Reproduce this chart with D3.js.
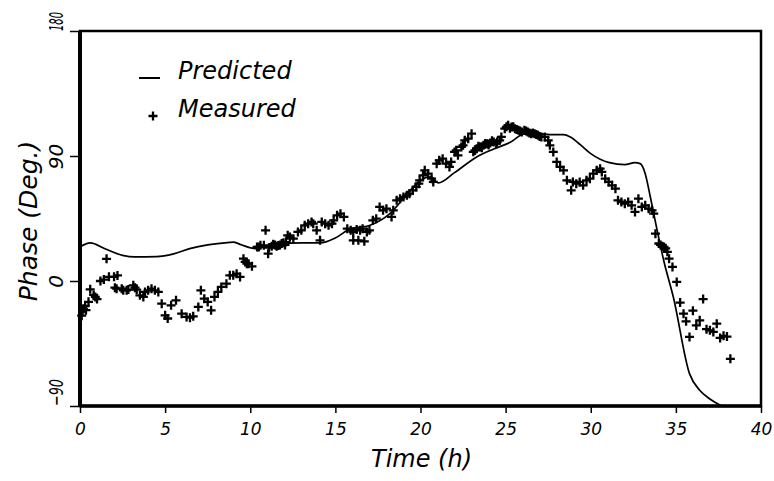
<!DOCTYPE html>
<html>
<head>
<meta charset="utf-8">
<script src="https://cdn.jsdelivr.net/npm/d3@7"></script>
<style>
  body { margin: 0; background: #fff; }
  text { font-family: "DejaVu Sans", sans-serif; font-style: italic; fill: #000; }
</style>
</head>
<body>
<div id="chart"></div>
<script>
// Datos
const predTime  = [0, 0.6, 1.5, 2.5, 3.2, 4.5, 5.5, 6.5, 7.5, 8.5, 9.0, 9.4, 10.3, 11, 11.75, 13, 14.1, 15, 15.9, 17.0, 18.2, 19.4, 20.0, 20.6, 21.05, 22, 23.3, 24.3, 25.3, 26.1, 27.0, 27.6, 28.4, 28.8, 29.4, 30.0, 31.1, 32.0, 32.6, 32.9, 33.2, 33.5, 33.9, 34.3, 34.85, 35.8, 36.4, 37.0, 37.7];
const predPhase = [24.5, 27.4, 23, 18.5, 17.3, 17.5, 19.5, 23.5, 26, 27.5, 28, 26.4, 23.3, 25, 27, 27.5, 27.4, 31, 37.7, 40, 48.5, 65.3, 72.5, 74.9, 70.6, 78, 89.3, 95, 100, 106, 106, 105.4, 105.4, 103.7, 98, 91.7, 85.2, 83.8, 85.2, 84.5, 77.3, 60.5, 36.5, 14, -11.5, -66.7, -78.7, -85, -90];

const measTime = [0.1, 0.15, 0.2, 0.3, 0.35, 0.5, 0.6, 0.8, 0.9, 1.0, 1.2, 1.4, 1.56, 1.7, 2.0, 2.2, 2.05, 2.15, 2.45, 2.54, 2.74, 2.84, 3.13, 3.23, 3.33, 3.52, 3.72, 3.82, 4.0, 4.2, 4.4, 4.6, 4.8, 5.0, 5.15, 5.35, 5.64, 5.97, 6.26, 6.46, 6.65, 6.95, 7.1, 7.3, 7.5, 7.7, 7.9, 8.1, 8.3, 8.6, 8.8, 9.0, 9.2, 9.4, 9.6, 9.7, 9.8, 9.9, 10.1, 10.4, 10.5, 10.6, 10.8, 10.9, 11.05, 11.1, 11.26, 11.35, 11.45, 11.55, 11.65, 11.75, 11.85, 11.95, 12.04, 12.1, 12.2, 12.33, 12.53, 12.8, 13.0, 13.2, 13.4, 13.6, 13.7, 13.9, 14.1, 14.2, 14.4, 14.6, 14.8, 14.9, 15.1, 15.3, 15.5, 15.7, 15.9, 16.05, 16.05, 16.25, 16.35, 16.45, 16.6, 16.7, 16.85, 17.0, 17.2, 17.4, 17.6, 17.8, 18.0, 18.3, 18.4, 18.6, 18.8, 19.0, 19.2, 19.35, 19.55, 19.75, 19.9, 19.95, 20.15, 20.25, 20.45, 20.65, 20.75, 20.95, 21.1, 21.3, 21.5, 21.7, 21.8, 22.0, 22.1, 22.2, 22.4, 22.5, 22.6, 22.8, 23.0, 23.1, 23.2, 23.3, 23.4, 23.5, 23.6, 23.7, 23.8, 23.9, 24.0, 24.1, 24.2, 24.3, 24.45, 24.5, 24.65, 24.75, 24.95, 25.05, 25.15, 25.25, 25.35, 25.45, 25.55, 25.65, 25.75, 25.85, 25.95, 26.1, 26.2, 26.3, 26.4, 26.5, 26.6, 26.7, 26.8, 26.9, 27.0, 27.1, 27.3, 27.5, 27.6, 27.8, 28.0, 28.2, 28.4, 28.6, 28.85, 28.95, 29.15, 29.35, 29.55, 29.75, 29.95, 30.15, 30.35, 30.55, 30.65, 30.85, 31.05, 31.25, 31.45, 31.6, 31.8, 32.0, 32.2, 32.4, 32.6, 32.8, 33.0, 33.2, 33.4, 33.6, 33.7, 33.8, 34.0, 34.1, 34.2, 34.3, 34.4, 34.5, 34.6, 34.8, 35.05, 35.25, 35.45, 35.6, 35.8, 36.0, 36.2, 36.4, 36.6, 36.8, 37.0, 37.2, 37.4, 37.6, 37.8, 38.0, 38.2];
const measPhase = [-25, -22, -20, -18, -21, -15, -6, -10, -11.5, -13, 0, 1, 16, 3, 3, 4, -4.8, -5.5, -5.5, -6.7, -6.7, -6.2, -3.1, -4.8, -6.2, -10.3, -11.5, -7.9, -6.7, -5.5, -6.7, -7.9, -16.3, -24.7, -27, -17.5, -13.9, -23.5, -25.9, -26.4, -25.4, -18.7, -6.7, -12.7, -15.1, -21.1, -11.5, -7.9, -4.3, -1.9, 4.1, 4.1, 5.3, 2.9, 16.1, 13.7, 12.5, 12.5, 10.6, 24.5, 24.5, 25.7, 25.7, 36.5, 19.7, 24, 25, 26.5, 26, 25, 25.5, 26, 27, 27.5, 26, 28, 32.9, 31.7, 30.5, 35.3, 36.5, 40.1, 41.3, 42.5, 41.3, 36.5, 29.3, 42.5, 41.3, 40.1, 41.3, 43.7, 47.3, 48.5, 46.1, 37.7, 36.5, 35.3, 29.3, 37, 29.3, 36.5, 37.7, 28.6, 35.3, 36.5, 43.7, 44.9, 53.3, 50.9, 52.1, 46.1, 50.9, 58.1, 59.3, 60.5, 61.7, 62.9, 65.3, 67.7, 70.1, 72.5, 76.1, 79.7, 77.3, 73.7, 71.3, 84.5, 86.9, 88.1, 84.5, 82.1, 85.7, 92.9, 94.1, 90.5, 96.5, 97.7, 101.3, 102.5, 106.1, 93, 94, 95.3, 97, 96.5, 96, 97.7, 99, 98.9, 98, 99.4, 101, 100.1, 98.9, 100, 101.3, 103.7, 109.7, 111, 112.1, 110, 110.9, 111, 109.7, 109, 108.5, 108, 107.3, 108.5, 108, 107.3, 106.5, 106.1, 106.5, 106.1, 105.5, 104.9, 104, 103.7, 103.7, 101.3, 97.7, 92.9, 85.7, 82.1, 79.7, 72.5, 65.3, 71.3, 70.1, 71.3, 68.9, 72.5, 73.7, 77.3, 79.7, 80.9, 78.5, 73.7, 71.3, 68.9, 66.5, 58.1, 56.9, 55.7, 56.9, 54.5, 49.7, 59.3, 53.3, 54.5, 52.1, 50.9, 48.5, 34.1, 27, 26, 25, 24.5, 23.5, 21, 16.1, 10.1, -0.7, -15.5, -23.5, -29, -40.3, -21.4, -32, -28.3, -13, -34.7, -35.5, -36.7, -30.7, -41, -39.5, -40, -56];

const xTicks = [0, 5, 10, 15, 20, 25, 30, 35, 40];
const yTicks = [-90, 0, 90, 180];

// Dimensiones
const ancho = 774;
const alto = 481;
const margen = { superior: 31, derecho: 13, inferior: 75, izquierdo: 80 };
const anchoGrafico = ancho - margen.izquierdo - margen.derecho;
const altoGrafico = alto - margen.superior - margen.inferior;

const svg = d3.select("#chart")
  .append("svg")
  .attr("width", ancho)
  .attr("height", alto)
  .style("background-color", "white");

const grafico = svg.append("g")
  .attr("transform", `translate(${margen.izquierdo},${margen.superior})`);

const escalaX = d3.scaleLinear().domain([0, 40]).range([0, anchoGrafico]);
const escalaY = d3.scaleLinear().domain([-90, 180]).range([altoGrafico, 0]);

// Ejes
const ejeX = grafico.append("g")
  .attr("transform", `translate(0,${altoGrafico})`)
  .call(d3.axisBottom(escalaX).tickValues(xTicks).tickSize(7).tickPadding(6));
ejeX.select(".domain").remove();
ejeX.selectAll("line").attr("stroke-width", 1.5);
ejeX.selectAll("text")
  .attr("font-size", "17px")
  .attr("dy", "0.95em");

const ejeY = grafico.append("g")
  .call(d3.axisLeft(escalaY).tickValues(yTicks).tickSize(10));
ejeY.select(".domain").remove();
ejeY.selectAll("line").attr("stroke-width", 1.5);
ejeY.selectAll("text")
  .attr("font-size", "20px")
  .attr("transform", "rotate(-90)")
  .attr("x", 0)
  .attr("y", -17)
  .attr("dy", 0)
  .attr("text-anchor", "middle")
  .text(d => d < 0 ? "\u2212" + Math.abs(d) : d);
// las etiquetas de los extremos van mas apretadas y corridas hacia adentro
ejeY.selectAll("text")
  .filter(d => d === 180 || d === -90)
  .attr("textLength", d => d === 180 ? 19 : 27)
  .attr("lengthAdjust", "spacingAndGlyphs")
  .attr("x", d => d === 180 ? 10 : 14);

// Marco
grafico.append("rect")
  .attr("x", 0).attr("y", 0)
  .attr("width", anchoGrafico).attr("height", altoGrafico)
  .attr("fill", "none").attr("stroke", "black").attr("stroke-width", 2.5);
grafico.append("line")
  .attr("x1", 0).attr("x2", 0).attr("y1", 0).attr("y2", altoGrafico)
  .attr("stroke", "black").attr("stroke-width", 4);
grafico.append("line")
  .attr("x1", 0).attr("x2", anchoGrafico).attr("y1", altoGrafico).attr("y2", altoGrafico)
  .attr("stroke", "black").attr("stroke-width", 3.5);

// Curva predicha
const puntosPred = predTime.map((t, i) => [t, predPhase[i]]);
const linea = d3.line()
  .x(d => escalaX(d[0]))
  .y(d => escalaY(d[1]))
  .curve(d3.curveMonotoneX);

grafico.append("path")
  .attr("d", linea(puntosPred))
  .attr("fill", "none")
  .attr("stroke", "black")
  .attr("stroke-width", 1.7);

// Puntos medidos
const cruz = "M-4.5,0H4.5M0,-4.5V4.5";
const puntosMed = measTime.map((t, i) => [t, measPhase[i]]);
grafico.selectAll(".punto")
  .data(puntosMed)
  .enter()
  .append("path")
  .attr("class", "punto")
  .attr("d", cruz)
  .attr("transform", d => `translate(${escalaX(d[0])},${escalaY(d[1])})`)
  .attr("stroke", "black")
  .attr("stroke-width", 2.3);

// Leyenda
svg.append("line")
  .attr("x1", 139).attr("x2", 160).attr("y1", 78).attr("y2", 78)
  .attr("stroke", "black").attr("stroke-width", 2);
svg.append("text")
  .attr("x", 178).attr("y", 79)
  .attr("font-size", "24px")
  .text("Predicted");
svg.append("path")
  .attr("d", cruz)
  .attr("transform", "translate(153,116)")
  .attr("stroke", "black").attr("stroke-width", 2.3);
svg.append("text")
  .attr("x", 178).attr("y", 117)
  .attr("font-size", "24px")
  .text("Measured");

// Titulos de ejes
svg.append("text")
  .attr("x", margen.izquierdo + anchoGrafico / 2 + 1)
  .attr("y", 467)
  .attr("text-anchor", "middle")
  .attr("font-size", "24px")
  .text("Time (h)");

svg.append("text")
  .attr("transform", "translate(37,221) rotate(-90)")
  .attr("text-anchor", "middle")
  .attr("font-size", "25px")
  .text("Phase (Deg.)");
</script>
</body>
</html>
